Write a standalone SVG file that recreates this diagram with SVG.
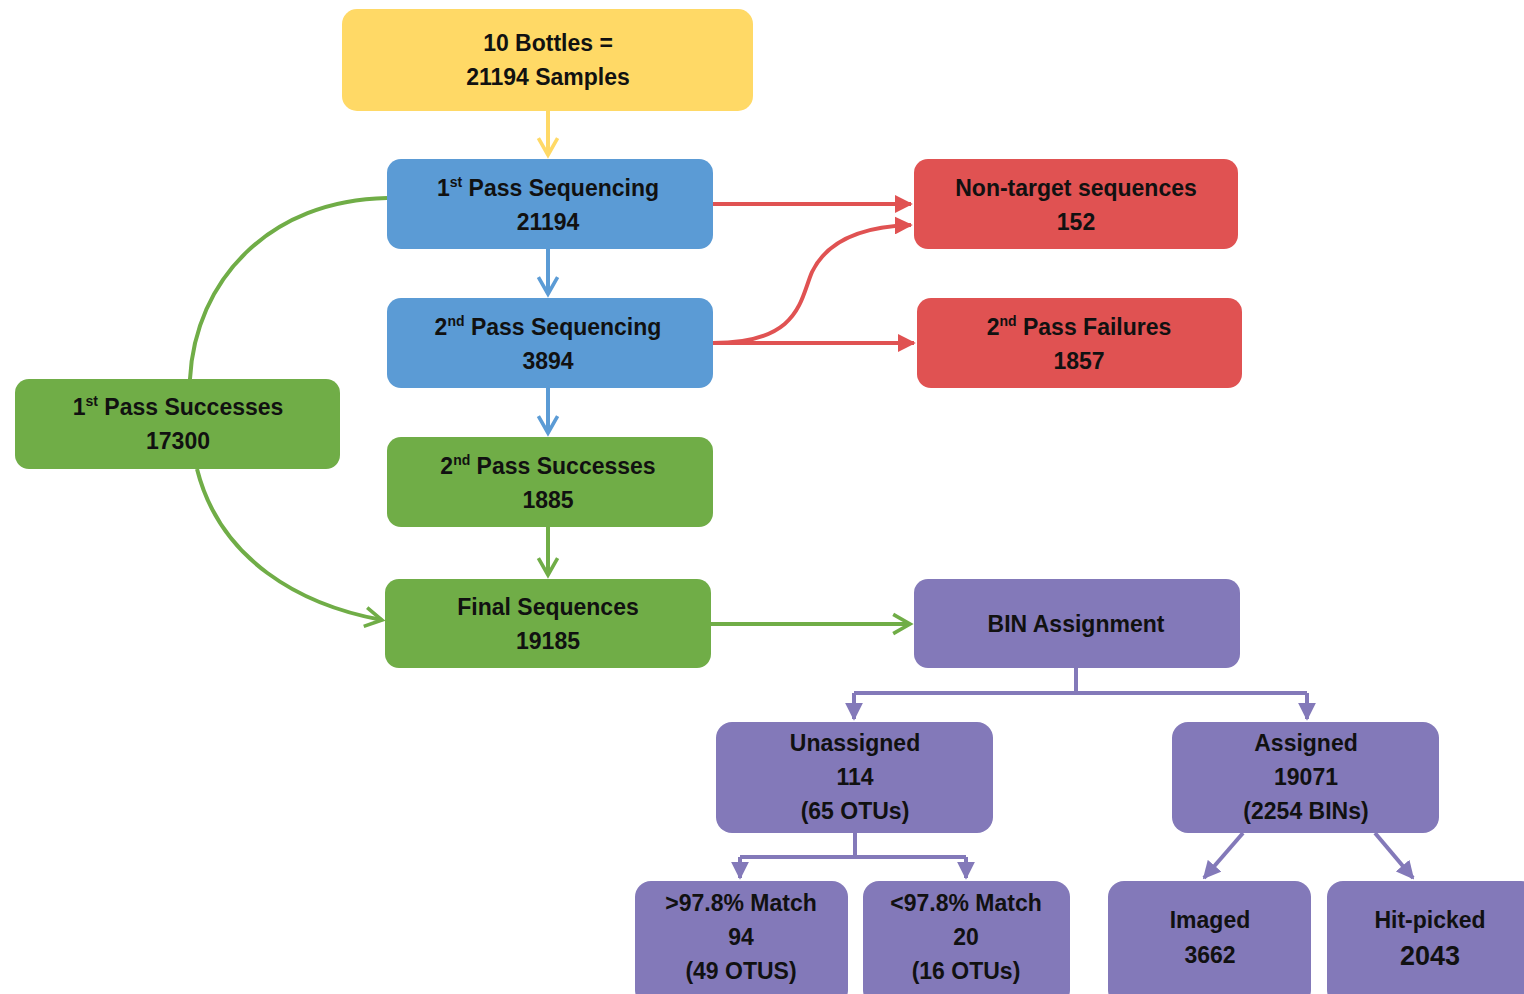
<svg xmlns="http://www.w3.org/2000/svg" width="1524" height="994" viewBox="0 0 1524 994">
<defs>
<style>
text{font-family:"Liberation Sans",Arial,sans-serif;font-weight:bold;font-size:23px;fill:#111;text-anchor:middle}
.sup{font-size:14px}
.big{font-size:27px}
.y{fill:#FFD966}
.b{fill:#5B9BD5}
.r{fill:#E05252}
.g{fill:#70AD47}
.p{fill:#8379B9}
.c{fill:none;stroke-width:4}
</style>
<marker id="chY" viewBox="0 0 20 20" refX="17" refY="10" markerWidth="6" markerHeight="6" markerUnits="strokeWidth" orient="auto"><path d="M3,2 L17,10 L3,18" fill="none" stroke="#FFD966" stroke-width="3"/></marker>
<marker id="chB" viewBox="0 0 20 20" refX="17" refY="10" markerWidth="6" markerHeight="6" markerUnits="strokeWidth" orient="auto"><path d="M3,2 L17,10 L3,18" fill="none" stroke="#5B9BD5" stroke-width="3"/></marker>
<marker id="chG" viewBox="0 0 20 20" refX="17" refY="10" markerWidth="6" markerHeight="6" markerUnits="strokeWidth" orient="auto"><path d="M3,2 L17,10 L3,18" fill="none" stroke="#70AD47" stroke-width="3"/></marker>
<marker id="trR" viewBox="0 0 10 10" refX="9" refY="5" markerWidth="4.5" markerHeight="4.5" markerUnits="strokeWidth" orient="auto"><path d="M0,0 L10,5 L0,10 Z" fill="#E05252"/></marker>
<marker id="trP" viewBox="0 0 10 10" refX="9" refY="5" markerWidth="4.5" markerHeight="4.5" markerUnits="strokeWidth" orient="auto"><path d="M0,0 L10,5 L0,10 Z" fill="#8379B9"/></marker>
</defs>
<rect width="1524" height="994" fill="#fff"/>
<g id="connectors">
<path class="c" stroke="#FFD966" d="M548,111 V155" marker-end="url(#chY)"/>
<path class="c" stroke="#5B9BD5" d="M548,249 V294" marker-end="url(#chB)"/>
<path class="c" stroke="#5B9BD5" d="M548,388 V433" marker-end="url(#chB)"/>
<path class="c" stroke="#70AD47" d="M548,527 V575" marker-end="url(#chG)"/>
<path class="c" stroke="#E05252" d="M713,204 H911" marker-end="url(#trR)"/>
<path class="c" stroke="#E05252" d="M713,343 H914" marker-end="url(#trR)"/>
<path class="c" stroke="#E05252" d="M713,343 C800,343 800,300 812,272 C830,235 875,226 911,225" marker-end="url(#trR)"/>
<path class="c" stroke="#70AD47" d="M387,198 C270,200 195,280 190,379"/>
<path class="c" stroke="#70AD47" d="M197,469 C220,560 300,605 382,620" marker-end="url(#chG)"/>
<path class="c" stroke="#70AD47" d="M711,624 H910" marker-end="url(#chG)"/>
<path class="c" stroke="#8379B9" d="M1076,668 V693 M854,693 H1307"/>
<path class="c" stroke="#8379B9" d="M854,693 V719" marker-end="url(#trP)"/>
<path class="c" stroke="#8379B9" d="M1307,693 V719" marker-end="url(#trP)"/>
<path class="c" stroke="#8379B9" d="M855,833 V857 M740,857 H966"/>
<path class="c" stroke="#8379B9" d="M740,857 V878" marker-end="url(#trP)"/>
<path class="c" stroke="#8379B9" d="M966,857 V878" marker-end="url(#trP)"/>
<path class="c" stroke="#8379B9" d="M1243,833 L1204,878" marker-end="url(#trP)"/>
<path class="c" stroke="#8379B9" d="M1375,833 L1413,878" marker-end="url(#trP)"/>
</g>
<g id="bottles"><rect class="y" x="342" y="9" width="411" height="102" rx="15"/><text x="548" y="51">10 Bottles =</text><text x="548" y="85">21194 Samples</text></g>
<g id="pass1"><rect class="b" x="387" y="159" width="326" height="90" rx="14"/><text x="548" y="196">1<tspan class="sup" dy="-9">st</tspan><tspan dy="9"> Pass Sequencing</tspan></text><text x="548" y="230">21194</text></g>
<g id="pass2"><rect class="b" x="387" y="298" width="326" height="90" rx="14"/><text x="548" y="335">2<tspan class="sup" dy="-9">nd</tspan><tspan dy="9"> Pass Sequencing</tspan></text><text x="548" y="369">3894</text></g>
<g id="success2"><rect class="g" x="387" y="437" width="326" height="90" rx="14"/><text x="548" y="474">2<tspan class="sup" dy="-9">nd</tspan><tspan dy="9"> Pass Successes</tspan></text><text x="548" y="508">1885</text></g>
<g id="final"><rect class="g" x="385" y="579" width="326" height="89" rx="14"/><text x="548" y="615">Final Sequences</text><text x="548" y="649">19185</text></g>
<g id="success1"><rect class="g" x="15" y="379" width="325" height="90" rx="14"/><text x="178" y="415">1<tspan class="sup" dy="-9">st</tspan><tspan dy="9"> Pass Successes</tspan></text><text x="178" y="449">17300</text></g>
<g id="nontarget"><rect class="r" x="914" y="159" width="324" height="90" rx="14"/><text x="1076" y="196">Non-target sequences</text><text x="1076" y="230">152</text></g>
<g id="failures"><rect class="r" x="917" y="298" width="325" height="90" rx="14"/><text x="1079" y="335">2<tspan class="sup" dy="-9">nd</tspan><tspan dy="9"> Pass Failures</tspan></text><text x="1079" y="369">1857</text></g>
<g id="bin"><rect class="p" x="914" y="579" width="326" height="89" rx="14"/><text x="1076" y="632">BIN Assignment</text></g>
<g id="unassigned"><rect class="p" x="716" y="722" width="277" height="111" rx="16"/><text x="855" y="751">Unassigned</text><text x="855" y="785">114</text><text x="855" y="819">(65 OTUs)</text></g>
<g id="assigned"><rect class="p" x="1172" y="722" width="267" height="111" rx="16"/><text x="1306" y="751">Assigned</text><text x="1306" y="785">19071</text><text x="1306" y="819">(2254 BINs)</text></g>
<g id="match_hi"><rect class="p" x="635" y="881" width="213" height="125" rx="16"/><text x="741" y="911">&gt;97.8% Match</text><text x="741" y="945">94</text><text x="741" y="979">(49 OTUS)</text></g>
<g id="match_lo"><rect class="p" x="863" y="881" width="207" height="125" rx="16"/><text x="966" y="911">&lt;97.8% Match</text><text x="966" y="945">20</text><text x="966" y="979">(16 OTUs)</text></g>
<g id="imaged"><rect class="p" x="1108" y="881" width="203" height="125" rx="16"/><text x="1210" y="928">Imaged</text><text x="1210" y="963">3662</text></g>
<g id="hitpicked"><rect class="p" x="1327" y="881" width="210" height="125" rx="16"/><text x="1430" y="928">Hit-picked</text><text class="big" x="1430" y="965">2043</text></g>
</svg>
